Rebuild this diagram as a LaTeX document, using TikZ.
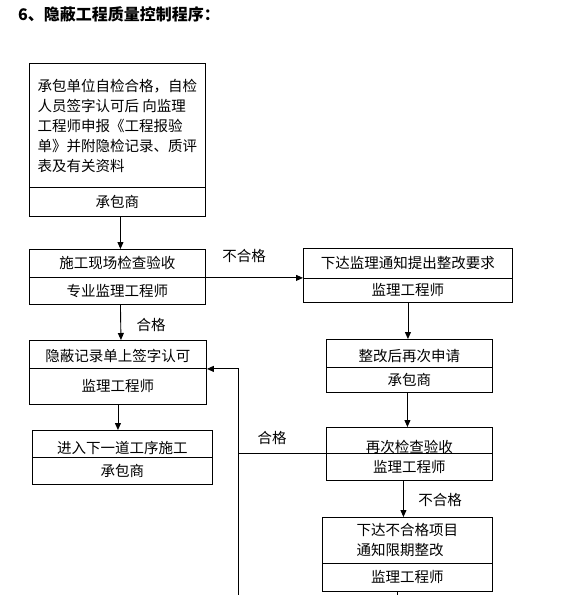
\documentclass[tikz,border=0pt]{standalone}
\usepackage{fontspec}
\setmainfont{Noto Sans CJK SC}
\usetikzlibrary{arrows.meta,calc}
\newcommand\boxfont{\fontsize{14.5}{20}\selectfont}
\begin{document}
\begin{tikzpicture}[x=1pt,y=-1pt,
  part/.style={draw,line width=0.9pt,inner sep=0pt,anchor=north west,font=\boxfont},
  conn/.style={line width=0.9pt},
  arr/.style={conn,-{Triangle[length=7pt,width=6pt]}},
  lbl/.style={font=\boxfont,inner sep=0pt}]
\useasboundingbox (0,0) rectangle (587,595);
\fill[white] (0,0) rectangle (587,595);
% title
\node[anchor=west,inner sep=0pt,font=\fontsize{16}{16}\selectfont\bfseries] (title) at (18,14) {6、隐蔽工程质量控制程序：};
% box 1
\node[part,minimum width=176,minimum height=124,align=left] (b1t) at (29,63)
  {承包单位自检合格，自检\\人员签字认可后 向监理\\工程师申报《工程报验\\单》并附隐检记录、质评\\表及有关资料};
\node[part,minimum width=176,minimum height=29] (b1b) at (29,187) {承包商};
% box 2
\node[part,minimum width=176,minimum height=28] (b2t) at (29,249) {施工现场检查验收};
\node[part,minimum width=176,minimum height=27] (b2b) at (29,277) {专业监理工程师};
% box 3
\node[part,minimum width=209,minimum height=30] (b3t) at (303,248) {下达监理通知提出整改要求};
\node[part,minimum width=209,minimum height=24] (b3b) at (303,278) {监理工程师};
% box 4
\node[part,minimum width=166,minimum height=28,text height=17] (b4t) at (326,339) {整改后再次申请};
\node[part,minimum width=166,minimum height=25] (b4b) at (326,367) {承包商};
% box 5
\node[part,minimum width=177,minimum height=28,text height=15] (b5t) at (29,340) {隐蔽记录单上签字认可};
\node[part,minimum width=177,minimum height=36] (b5b) at (29,368) {监理工程师};
% box 6
\node[part,minimum width=180,minimum height=27,text height=20,text depth=0] (b6t) at (32,430) {进入下一道工序施工};
\node[part,minimum width=180,minimum height=27] (b6b) at (32,457) {承包商};
% box 7
\node[part,minimum width=166,minimum height=26,text height=24,text depth=0] (b7t) at (326,427) {再次检查验收};
\node[part,minimum width=166,minimum height=27] (b7b) at (326,453) {监理工程师};
% box 8
\node[part,minimum width=170,minimum height=46,align=left] (b8t) at (322,517) {下达不合格项目\\通知限期整改};
\node[part,minimum width=170,minimum height=28] (b8b) at (322,563) {监理工程师};
% connectors
\draw[arr] ([xshift=3]b1b.south) -- ([xshift=3]b2t.north);
\draw[arr] (b2t.south east) -- (b2t.south east -| b3t.west);
\draw[arr] ([xshift=3]b2b.south) -- ([xshift=3]b5t.north);
\draw[arr] (b5b.south) -- (b5b.south |- b6t.north);
\draw[arr] (b3b.south) -- (b3b.south |- b4t.north);
\draw[arr] ([xshift=-2]b4b.south) -- ([xshift=-2]b4b.south |- b7t.north);
\draw[arr] ([xshift=-6]b7b.south) -- ([xshift=-6]b7b.south |- b8t.north);
\coordinate (vb) at (238,595);
\draw[conn] (b7t.south west) -- (b7t.south west -| vb);
\draw[arr] (vb) |- (b5t.south east);
\coordinate (b8e) at (397,595);
\draw[conn] (b8b.south -| b8e) -- (b8e);
% labels
\node[lbl] (l1) at (244,256) {不合格};
\node[lbl] (l2) at (151,325) {合格};
\node[lbl] (l3) at (272,438) {合格};
\node[lbl] (l4) at (440,500) {不合格};
\end{tikzpicture}
\end{document}
